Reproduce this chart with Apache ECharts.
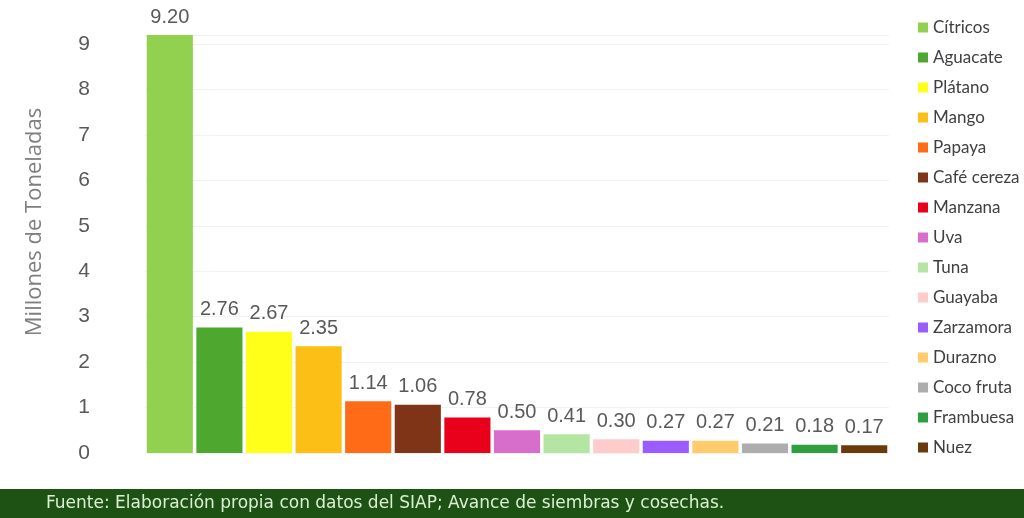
<!DOCTYPE html>
<html>
<head>
<meta charset="utf-8">
<script src="https://cdn.jsdelivr.net/npm/echarts@6/dist/echarts.min.js"></script>
<style>
  html, body { margin: 0; padding: 0; background: #fff; }
  #chart { width: 1024px; height: 518px; }
</style>
</head>
<body>
<div id="chart"></div>
<script>
const categories = ["Cítricos", "Aguacate", "Plátano", "Mango", "Papaya", "Café cereza", "Manzana", "Uva", "Tuna", "Guayaba", "Zarzamora", "Durazno", "Coco fruta", "Frambuesa", "Nuez"]
const values = [9.20, 2.76, 2.67, 2.35, 1.14, 1.06, 0.78, 0.50, 0.41, 0.30, 0.27, 0.27, 0.21, 0.18, 0.17]
const colors = ["#92d050", "#4ea72e", "#ffff1a", "#fbbf16", "#ff6b17", "#7f3317", "#e9001b", "#d86ecc", "#b4e5a2", "#ffcccc", "#9b5cff", "#ffcb6b", "#adadad", "#2e9e3e", "#6b3a0a"]
const yTicks = [0, 1, 2, 3, 4, 5, 6, 7, 8, 9]
const source = "Fuente: Elaboración propia con datos del SIAP; Avance de siembras y cosechas."

const myChart = echarts.init(document.getElementById("chart"))

// one series per fruit so the legend lists each one, stacked so bars keep full width
const series = categories.map(function (name, i) {
    return {
        name: name,
        type: 'bar',
        stack: 'all',
        barCategoryGap: '7%',
        itemStyle: { color: colors[i] },
        label: {
            show: true,
            position: 'top',
            distance: 8,
            fontFamily: 'Liberation Sans',
            fontSize: 20,
            color: '#595959',
            formatter: function (p) { return p.value.toFixed(2) }
        },
        data: categories.map(function (c, j) { return j === i ? values[i] : '-' })
    }
})

const option = {
    animation: false,
    backgroundColor: '#fff',
    color: colors,
    grid: {
        left: 145,
        right: 135,
        top: 35,
        bottom: 65
    },
    legend: {
        orient: 'vertical',
        left: 913,
        top: 14,
        itemWidth: 10,
        itemHeight: 10,
        itemGap: 13,
        icon: 'rect',
        textStyle: {
            fontFamily: 'Lato',
            fontSize: 17,
            color: '#404040'
        },
        data: categories
    },
    xAxis: {
        type: 'category',
        data: categories,
        axisLine: { show: false },
        axisTick: { show: false },
        axisLabel: { show: false }
    },
    yAxis: {
        type: 'value',
        min: 0,
        max: 9.2,
        interval: 1,
        name: 'Millones de Toneladas',
        nameLocation: 'middle',
        nameGap: 99,
        nameRotate: 90,
        nameTextStyle: {
            fontFamily: 'Open Sans',
            fontSize: 22,
            color: '#7f7f7f',
            padding: [0, 0, 0, 44]
        },
        axisLine: { show: false },
        axisTick: { show: false },
        axisLabel: {
            margin: 55,
            fontFamily: 'Liberation Sans',
            fontSize: 21,
            color: '#595959',
            showMaxLabel: false,
            formatter: function (v) { return yTicks.indexOf(v) >= 0 ? String(v) : '' }
        },
        splitLine: {
            lineStyle: { color: '#f2f2f2', width: 1 }
        }
    },
    graphic: [{
        type: 'rect',
        left: 0,
        top: 489,
        shape: { width: 1024, height: 29 },
        style: { fill: '#1d5214' }
    }, {
        type: 'text',
        left: 46,
        top: 495,
        style: {
            text: source,
            fontFamily: 'DejaVu Sans',
            fontSize: 17,
            fill: '#dcefd4'
        }
    }],
    series: series
}
myChart.setOption(option)
</script>
</body>
</html>
